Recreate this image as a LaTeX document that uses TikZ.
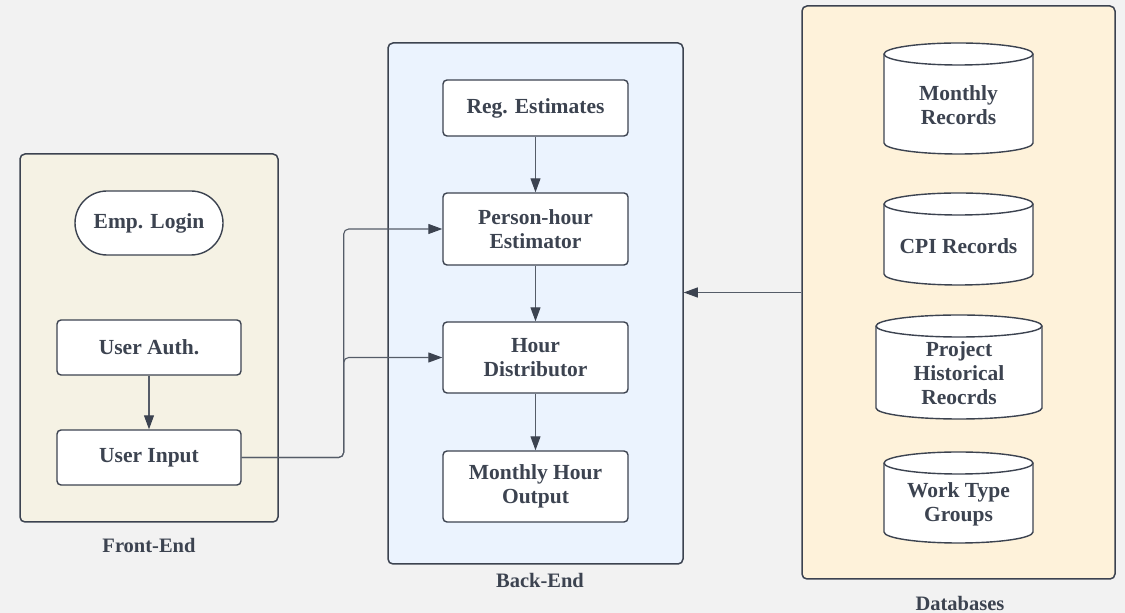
\documentclass[tikz,border=0pt]{standalone}
\usepackage{fontspec}
\setmainfont{Liberation Serif}
\usetikzlibrary{arrows.meta,calc}

\definecolor{ink}{HTML}{3C4350}
\definecolor{wire}{HTML}{555C68}
\definecolor{canvas}{HTML}{F2F2F2}
\definecolor{frontfill}{HTML}{F5F2E4}
\definecolor{backfill}{HTML}{EBF3FE}
\definecolor{dbfill}{HTML}{FEF2DA}

\tikzset{
  group/.style={draw=ink, line width=1.5pt, rounded corners=5pt},
  proc/.style={draw=ink, line width=1.4pt, rounded corners=4pt, fill=white,
    minimum width=184pt, align=center, text=ink, inner sep=0pt,
    font=\fontsize{21.5}{24}\selectfont\bfseries},
  pill/.style={proc, rounded corners=32pt, minimum width=148pt, minimum height=64pt},
  dbtext/.style={align=center, text=ink, inner sep=0pt,
    font=\fontsize{21.5}{24}\selectfont\bfseries},
  cylbody/.style={draw=ink, line width=1.4pt, fill=white},
  grouplabel/.style={text=ink, inner sep=0pt, font=\fontsize{20.5}{24}\selectfont\bfseries},
  conn/.style={draw=wire, line width=1.1pt,
    -{Triangle[length=14pt,width=10pt,color=ink,fill=ink]}},
}

% cylinder: name, x, y, width, height, text, downward text offset
\newcommand\dbcylinder[7]{%
  \begin{scope}[shift={(#2,#3)}]
    \path[cylbody] ({-0.5*#4},{0.5*#5-11}) -- ({-0.5*#4},{-0.5*#5+11})
      arc[start angle=180,end angle=360,x radius={0.5*#4},y radius=11]
      -- ({0.5*#4},{0.5*#5-11})
      arc[start angle=0,end angle=180,x radius={0.5*#4},y radius=11] -- cycle;
    \draw[draw=ink, line width=1.4pt] ({-0.5*#4},{0.5*#5-11})
      arc[start angle=180,end angle=360,x radius={0.5*#4},y radius=11];
  \end{scope}
  \node[dbtext] (#1) at (#2,{#3-#7}) {#6};
}

\begin{document}
\begin{tikzpicture}[x=1pt,y=1pt]
  \fill[canvas] (0,0) rectangle (1125,613);
  \useasboundingbox (0,0) rectangle (1125,613);

  % group containers
  \node[group, fill=frontfill, minimum width=258pt, minimum height=368pt] (front) at (149,275) {};
  \node[group, fill=backfill, minimum width=295pt, minimum height=521pt] (back) at (535.5,309.5) {};
  \node[group, fill=dbfill, minimum width=313pt, minimum height=573pt] (db) at (958.5,320.5) {};

  \node[grouplabel] (frontlbl) at (149,68) {Front-End};
  \node[grouplabel] (backlbl) at (540,33) {Back-End};
  \node[grouplabel] (dblbl) at (960,10) {Databases};

  % front-end
  \node[pill] (login) at (149,390) {Emp. Login};
  \node[proc, minimum height=55pt] (auth) at (149,265.5) {User Auth.};
  \node[proc, minimum height=55pt] (input) at (149,155.5) {User Input};

  % back-end
  \node[proc, minimum width=185pt, minimum height=56pt] (reg) at (535.5,505) {Reg. Estimates};
  \node[proc, minimum width=185pt, minimum height=72pt] (phe) at (535.5,384) {Person-hour\\Estimator};
  \node[proc, minimum width=185pt, minimum height=71pt] (dist) at (535.5,255.5) {Hour\\Distributor};
  \node[proc, minimum width=185pt, minimum height=71pt] (out) at (535.5,126.5) {Monthly Hour\\Output};

  % databases
  \dbcylinder{monthly}{958.5}{514.5}{149}{111}{Monthly\\Records}{7}
  \dbcylinder{cpi}{958.5}{374}{149}{92}{CPI Records}{7}
  \dbcylinder{proj}{959}{246}{166}{104}{Project\\Historical\\Reocrds}{6}
  \dbcylinder{work}{958.5}{115.5}{149}{91}{Work Type\\Groups}{7}

  % connectors
  \draw[conn] (auth) -- (input);
  \draw[conn] (reg) -- (phe);
  \draw[conn] (phe) -- (dist);
  \draw[conn] (dist) -- (out);
  \draw[conn, rounded corners=5pt] (input.east) -- ++(102,0) |- (phe.west);
  \draw[conn, rounded corners=5pt] (input.east) -- ++(102,0) |- (dist.west);
  \draw[conn] (db.west) -- (db.west -| back.east);
\end{tikzpicture}
\end{document}
